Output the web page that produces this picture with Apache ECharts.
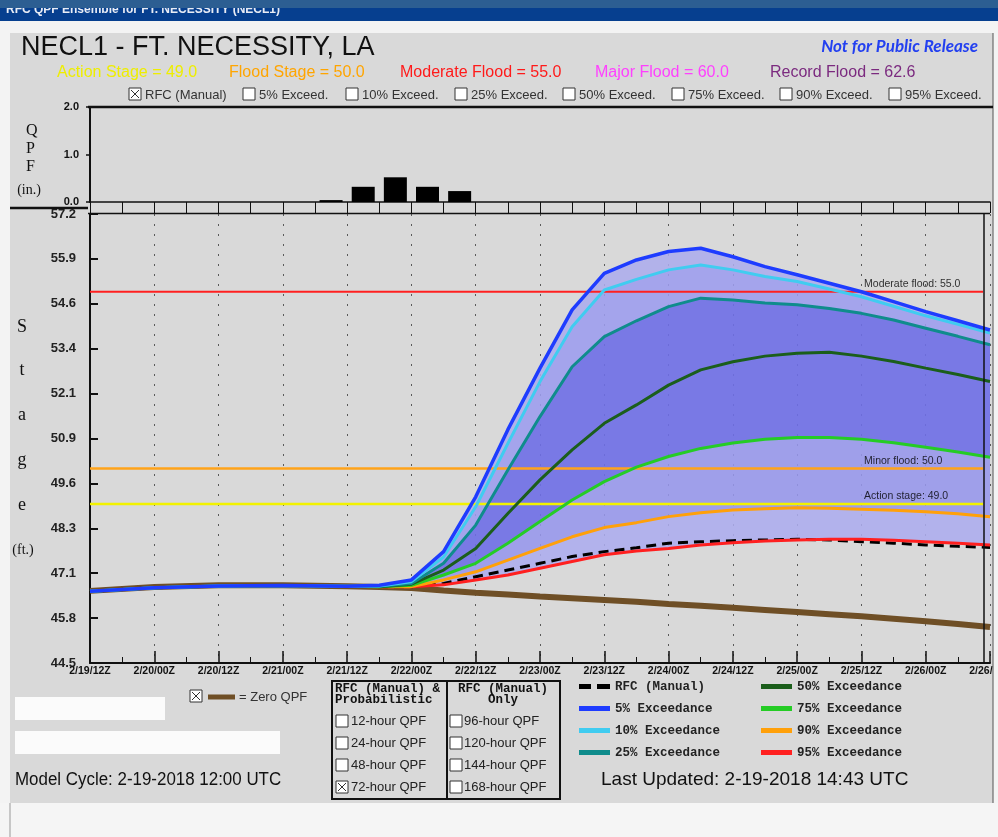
<!DOCTYPE html>
<html>
<head>
<meta charset="utf-8">
<title>NECL1 - FT. NECESSITY, LA</title>
<script src="https://cdn.jsdelivr.net/npm/echarts@6/dist/echarts.min.js"></script>
<style>
  html, body { margin: 0; padding: 0; background: #f3f3f3; }
  #chart { width: 998px; height: 837px; }
</style>
</head>
<body>
<div id="chart"></div>
<script>
// forecast hours since model cycle (2/19/12Z)
const hours = [0, 12, 24, 36, 48, 54, 60, 66, 72, 78, 84, 90, 96, 102, 108, 114, 120, 126, 132, 138, 144, 150, 156, 162, 168];

// stage (ft) per hour
const rfcManual = [46.53, 46.63, 46.68, 46.69, 46.67, 46.66, 46.66, 46.75, 46.94, 47.13, 47.32, 47.51, 47.65, 47.76, 47.89, 47.93, 47.96, 47.98, 48.00, 47.98, 47.93, 47.89, 47.84, 47.80, 47.77];
const exc05 = [46.53, 46.63, 46.68, 46.69, 46.67, 46.70, 46.85, 47.65, 49.20, 51.10, 52.84, 54.49, 55.52, 55.90, 56.14, 56.23, 55.99, 55.71, 55.48, 55.24, 55.00, 54.72, 54.44, 54.18, 53.92];
const exc10 = [46.53, 46.63, 46.68, 46.69, 46.67, 46.68, 46.80, 47.50, 48.92, 50.71, 52.46, 54.01, 55.05, 55.35, 55.62, 55.76, 55.62, 55.43, 55.29, 55.08, 54.86, 54.59, 54.32, 54.08, 53.83];
const exc25 = [46.53, 46.63, 46.68, 46.69, 46.67, 46.67, 46.75, 47.32, 48.40, 49.96, 51.47, 52.88, 53.73, 54.18, 54.58, 54.82, 54.77, 54.68, 54.63, 54.53, 54.39, 54.20, 53.97, 53.74, 53.50];
const exc50 = [46.53, 46.63, 46.68, 46.69, 46.67, 46.66, 46.73, 47.13, 47.74, 48.73, 49.68, 50.53, 51.28, 51.80, 52.36, 52.79, 53.02, 53.18, 53.26, 53.29, 53.18, 53.03, 52.84, 52.66, 52.46];
const exc75 = [46.53, 46.63, 46.68, 46.69, 46.67, 46.66, 46.70, 46.99, 47.32, 47.89, 48.50, 49.11, 49.63, 50.04, 50.34, 50.57, 50.72, 50.83, 50.88, 50.88, 50.83, 50.73, 50.60, 50.47, 50.32];
const exc90 = [46.53, 46.63, 46.68, 46.69, 46.67, 46.66, 46.66, 46.85, 47.08, 47.41, 47.74, 48.07, 48.33, 48.47, 48.64, 48.75, 48.83, 48.86, 48.89, 48.88, 48.85, 48.82, 48.78, 48.72, 48.64];
const exc95 = [46.53, 46.63, 46.68, 46.69, 46.67, 46.66, 46.66, 46.71, 46.85, 46.99, 47.18, 47.37, 47.56, 47.67, 47.74, 47.84, 47.90, 47.95, 47.98, 48.00, 48.00, 47.97, 47.93, 47.89, 47.84];
const zeroQpf = [46.54, 46.65, 46.70, 46.70, 46.67, 46.65, 46.62, 46.55, 46.49, 46.44, 46.38, 46.33, 46.28, 46.23, 46.17, 46.12, 46.06, 46.00, 45.94, 45.88, 45.82, 45.75, 45.68, 45.60, 45.52];

// 6-hour QPF (in.), centred on each period
const qpfHours = [45, 51, 57, 63, 69];
const qpfInches = [0.04, 0.32, 0.52, 0.32, 0.23];

// flood categories
const actionStage = 49.0;
const floodStage = 50.0;
const moderateFlood = 55.0;
const majorFlood = 60.0;
const recordFlood = 62.6;

// axis ticks
const xTickLabels = ['2/19/12Z', '2/20/00Z', '2/20/12Z', '2/21/00Z', '2/21/12Z', '2/22/00Z', '2/22/12Z', '2/23/00Z', '2/23/12Z', '2/24/00Z', '2/24/12Z', '2/25/00Z', '2/25/12Z', '2/26/00Z', '2/26/12Z'];
const yTickValues = [44.5, 45.77, 47.04, 48.31, 49.58, 50.85, 52.12, 53.39, 54.66, 55.93, 57.2];
const yTickLabels = ['44.5', '45.8', '47.1', '48.3', '49.6', '50.9', '52.1', '53.4', '54.6', '55.9', '57.2'];
const qpfTickLabels = ['0.0', '1.0', '2.0'];

const REF_END = 166.7;    // threshold lines stop at the plot frame
const REF_LABEL_AT = 144.5;

const FONT = '"Liberation Sans", Arial, sans-serif';
const MONO = '"Liberation Mono", "Courier New", monospace';
const SERIF = '"Liberation Serif", "Times New Roman", serif';

// ensemble fan: shaded bands between exceedance traces
const fanBands = [
  { upper: exc05, lower: exc10, color: 'rgba(172,172,236,0.88)' },
  { upper: exc10, lower: exc25, color: 'rgba(156,156,238,0.88)' },
  { upper: exc25, lower: exc75, color: 'rgba(110,110,230,0.9)' },
  { upper: exc75, lower: exc90, color: 'rgba(150,150,236,0.88)' },
  { upper: exc90, lower: exc95, color: 'rgba(172,172,238,0.88)' }
];

// ---- graphic helpers ----
function text (x, y, str, o) {
  o = o || {};
  return {
    type: 'text', x: x, y: y, scaleX: o.scaleX || 1, silent: true, z: 50,
    style: {
      text: str, fill: o.color || '#111', fontSize: o.size || 13,
      fontFamily: o.family || FONT, fontWeight: o.weight || 'normal',
      fontStyle: o.italic ? 'italic' : 'normal',
      align: o.align || 'left', verticalAlign: 'middle'
    }
  };
}
function line (x1, y1, x2, y2, color, width) {
  return { type: 'line', silent: true, z: 50, shape: { x1: x1, y1: y1, x2: x2, y2: y2 }, style: { stroke: color, lineWidth: width } };
}
function box (x, y, w, h, fill, stroke, lw, z) {
  return { type: 'rect', silent: true, z: z == null ? 40 : z, shape: { x: x, y: y, width: w, height: h }, style: { fill: fill, stroke: stroke || null, lineWidth: lw || 0 } };
}
function checkbox (x, y, checked) {
  const els = [box(x, y, 12, 12, '#fff', '#333', 1, 45)];
  if (checked) {
    els.push(line(x + 2, y + 2, x + 10, y + 10, '#333', 1));
    els.push(line(x + 10, y + 2, x + 2, y + 10, '#333', 1));
  }
  return els;
}

// ---- page decoration ----
let g = [];
g.push(box(0, 0, 998, 21, '#063f8f', null, 0, 30));
g.push(text(6, 10, 'RFC QPF Ensemble for FT. NECESSITY (NECL1)', { size: 12, weight: 'bold', color: '#e8ecf5' }));
g.push(box(0, 0, 998, 8, '#2c5e92', null, 0, 60));
g.push(box(0, 21, 998, 12, '#f3f3f3'));
g.push(box(0, 21, 10, 816, '#f3f3f3'));
g.push(box(993, 21, 5, 816, '#f3f3f3'));
g.push(line(993, 33, 993, 803, '#555', 1));
g.push(box(0, 803, 998, 34, '#f5f5f5'));
g.push(line(10, 803, 10, 837, '#999', 1));

g.push(text(21, 48, 'NECL1 - FT. NECESSITY, LA', { size: 27 }));
g.push(text(978, 47, 'Not for Public Release', { size: 17, weight: 'bold', italic: true, family: 'Lato, "Open Sans", sans-serif', color: '#2340f0', align: 'right' }));

g.push(text(57, 73, 'Action Stage = ' + actionStage.toFixed(1), { size: 16, color: '#eeee00' }));
g.push(text(229, 73, 'Flood Stage = ' + floodStage.toFixed(1), { size: 16, color: '#ffa500' }));
g.push(text(400, 73, 'Moderate Flood = ' + moderateFlood.toFixed(1), { size: 16, color: '#ff1a1a' }));
g.push(text(595, 73, 'Major Flood = ' + majorFlood.toFixed(1), { size: 16, color: '#ff40ff' }));
g.push(text(770, 73, 'Record Flood = ' + recordFlood.toFixed(1), { size: 16, color: '#7b2a7f' }));

const topChecks = [
  [129, 'RFC (Manual)', true], [243, '5% Exceed.', false], [346, '10% Exceed.', false],
  [455, '25% Exceed.', false], [563, '50% Exceed.', false], [672, '75% Exceed.', false],
  [780, '90% Exceed.', false], [889, '95% Exceed.', false]
];
topChecks.forEach(c => {
  g = g.concat(checkbox(c[0], 88, c[2]));
  g.push(text(c[0] + 16, 95, c[1], { size: 13, color: '#333' }));
});

// panel frames
g.push(line(88, 107, 993, 107, '#111', 2.5));
g.push(line(88, 213.5, 990, 213.5, '#111', 1.5));
g.push(line(10, 208, 88, 208, '#111', 2.5));
g.push(line(984, 214, 984, 663, '#111', 1.5));

// axis names
[['Q', 131], ['P', 149], ['F', 167]].forEach(t => g.push(text(26, t[1], t[0], { size: 16, family: SERIF })));
g.push(text(29, 190, '(in.)', { size: 14, family: SERIF, align: 'center' }));
[['S', 327], ['t', 370], ['a', 415], ['g', 460], ['e', 505]].forEach(t => g.push(text(22, t[1], t[0], { size: 18, family: SERIF, align: 'center' })));
g.push(text(23, 550, '(ft.)', { size: 14, family: SERIF, align: 'center' }));

// bottom area
g.push(box(15, 697, 150, 23, '#fbfbfb'));
g.push(box(15, 731, 265, 23, '#fbfbfb'));
g = g.concat(checkbox(190, 690, true));
g.push(line(208, 697, 235, 697, '#6f4f26', 5));
g.push(text(239, 697, '= Zero QPF', { size: 13, color: '#333' }));
g.push(text(15, 780, 'Model Cycle: 2-19-2018 12:00 UTC', { size: 18, scaleX: 0.94 }));
g.push(text(601, 780, 'Last Updated: 2-19-2018 14:43 UTC', { size: 19 }));

// QPF duration table
g.push(box(332, 681, 228, 118, 'rgba(0,0,0,0)', '#111', 2));
g.push(line(447, 681, 447, 799, '#111', 2));
g.push(text(335, 689, 'RFC (Manual) &', { size: 12.5, family: MONO, weight: 'bold' }));
g.push(text(335, 700, 'Probabilistic', { size: 12.5, family: MONO, weight: 'bold' }));
g.push(text(503, 689, 'RFC (Manual)', { size: 12.5, family: MONO, weight: 'bold', align: 'center' }));
g.push(text(503, 700, 'Only', { size: 12.5, family: MONO, weight: 'bold', align: 'center' }));
const leftOpts = [['12-hour QPF', false], ['24-hour QPF', false], ['48-hour QPF', false], ['72-hour QPF', true]];
const rightOpts = [['96-hour QPF', false], ['120-hour QPF', false], ['144-hour QPF', false], ['168-hour QPF', false]];
[721, 743, 765, 787].forEach((y, i) => {
  g = g.concat(checkbox(336, y - 6, leftOpts[i][1]));
  g.push(text(351, y, leftOpts[i][0], { size: 13, color: '#222' }));
  g = g.concat(checkbox(450, y - 6, rightOpts[i][1]));
  g.push(text(464, y, rightOpts[i][0], { size: 13, color: '#222' }));
});

// ---- series helpers ----
const pairs = vals => hours.map((h, i) => [h, vals[i]]);
function curve (name, vals, color, width, dash) {
  return {
    name: name, type: 'line', xAxisIndex: 1, yAxisIndex: 1, data: pairs(vals),
    symbol: 'none', silent: true, z: 5,
    lineStyle: { color: color, width: width, type: dash || 'solid' },
    itemStyle: { color: color }
  };
}
function threshold (value, color, width) {
  return {
    type: 'line', xAxisIndex: 1, yAxisIndex: 1, symbol: 'none', silent: true, z: 3,
    data: [[0, value], [REF_END, value]], lineStyle: { color: color, width: width }
  };
}
const legendText = { fontFamily: MONO, fontWeight: 'bold', fontSize: 12.5, color: '#222' };
const dashIcon = 'path://M0 0h12v5H0z M18 0h13v5H18z';

const chart = echarts.init(document.getElementById('chart'));
chart.setOption({
  animation: false,
  backgroundColor: '#d9d9d9',
  textStyle: { fontFamily: FONT },
  grid: [
    { left: 90, right: 8, top: 107, height: 95, outerBoundsMode: 'none' },
    { left: 90, right: 8, top: 214, height: 449, outerBoundsMode: 'none' }
  ],
  xAxis: [
    {
      gridIndex: 0, type: 'value', min: 0, max: 168, interval: 6,
      axisLine: { onZero: false, lineStyle: { color: '#111', width: 1.5 } },
      axisTick: { length: 11, lineStyle: { color: '#111', width: 1 } },
      axisLabel: { show: false }, splitLine: { show: false }
    },
    {
      gridIndex: 1, type: 'value', min: 0, max: 168, interval: 12,
      axisLine: { onZero: false, lineStyle: { color: '#111', width: 2 } },
      axisTick: { inside: true, length: 12, lineStyle: { color: '#111', width: 1.5 } },
      minorTick: { show: true, splitNumber: 2, length: 6, lineStyle: { color: '#111', width: 1 } },
      axisLabel: {
        margin: 3, fontSize: 10.5, fontWeight: 'bold', color: '#111',
        showMinLabel: true, showMaxLabel: true,
        formatter: v => xTickLabels[Math.round(v / 12)] || ''
      },
      splitLine: { show: true, lineStyle: { color: '#5a5a5a', width: 1, type: [2, 8] } }
    }
  ],
  yAxis: [
    {
      gridIndex: 0, type: 'value', min: 0, max: 2, interval: 1,
      axisLine: { show: true, onZero: false, lineStyle: { color: '#111', width: 2 } },
      axisTick: { show: true, length: 4, lineStyle: { color: '#111', width: 1.5 } },
      axisLabel: { margin: 11, fontSize: 11, fontWeight: 'bold', color: '#111', formatter: v => qpfTickLabels[Math.round(v)] },
      splitLine: { show: false }
    },
    {
      gridIndex: 1, type: 'value', min: yTickValues[0], max: yTickValues[yTickValues.length - 1],
      axisLine: { show: true, onZero: false, lineStyle: { color: '#111', width: 2 } },
      axisTick: { show: true, inside: true, length: 8, customValues: yTickValues, lineStyle: { color: '#111', width: 2 } },
      axisLabel: {
        margin: 14, fontSize: 13, fontWeight: 'bold', color: '#222', customValues: yTickValues,
        formatter: v => {
          const i = yTickValues.findIndex(t => Math.abs(t - v) < 1e-6);
          return i < 0 ? '' : yTickLabels[i];
        }
      },
      splitLine: { show: false }
    }
  ],
  legend: [
    {
      left: 579, top: 680, orient: 'vertical', padding: 0, itemWidth: 31, itemHeight: 5, itemGap: 9,
      selectedMode: false, icon: 'rect', textStyle: legendText,
      data: [{ name: 'RFC (Manual)', icon: dashIcon }, '5% Exceedance', '10% Exceedance', '25% Exceedance']
    },
    {
      left: 761, top: 680, orient: 'vertical', padding: 0, itemWidth: 31, itemHeight: 5, itemGap: 9,
      selectedMode: false, icon: 'rect', textStyle: legendText,
      data: ['50% Exceedance', '75% Exceedance', '90% Exceedance', '95% Exceedance']
    }
  ],
  graphic: { elements: g },
  series: [
    {
      type: 'bar', xAxisIndex: 0, yAxisIndex: 0, barWidth: 23, silent: true,
      data: qpfHours.map((h, i) => [h, qpfInches[i]]),
      itemStyle: { color: '#000' }
    },
    {
      type: 'custom', xAxisIndex: 1, yAxisIndex: 1, silent: true, z: 2,
      data: fanBands.map((b, i) => [i]),
      renderItem: (params, api) => {
        const b = fanBands[params.dataIndex];
        const top = hours.map((h, i) => api.coord([h, b.upper[i]]));
        const bottom = hours.map((h, i) => api.coord([h, b.lower[i]])).reverse();
        return { type: 'polygon', shape: { points: top.concat(bottom) }, style: { fill: b.color } };
      }
    },
    threshold(moderateFlood, '#ff2020', 2),
    threshold(floodStage, '#ffa31a', 2.5),
    threshold(actionStage, '#f2f200', 2.5),
    {
      type: 'scatter', xAxisIndex: 1, yAxisIndex: 1, symbolSize: 0.1, silent: true, z: 6,
      data: [
        [REF_LABEL_AT, moderateFlood, 'Moderate flood: ' + moderateFlood.toFixed(1)],
        [REF_LABEL_AT, floodStage, 'Minor flood: ' + floodStage.toFixed(1)],
        [REF_LABEL_AT, actionStage, 'Action stage: ' + actionStage.toFixed(1)]
      ],
      label: {
        show: true, position: 'top', align: 'left', distance: 2,
        fontSize: 10.5, color: '#000', formatter: p => p.value[2]
      }
    },
    curve('Zero QPF', zeroQpf, '#6f4f26', 6),
    curve('RFC (Manual)', rfcManual, '#000', 3, [10, 6]),
    curve('95% Exceedance', exc95, '#ff2020', 3),
    curve('90% Exceedance', exc90, '#ffa00a', 3),
    curve('75% Exceedance', exc75, '#25cc25', 3),
    curve('50% Exceedance', exc50, '#1b5e1b', 3),
    curve('25% Exceedance', exc25, '#0f8c8c', 3),
    curve('10% Exceedance', exc10, '#40ccf0', 3),
    curve('5% Exceedance', exc05, '#1e3cff', 3.5)
  ]
});
</script>
</body>
</html>
